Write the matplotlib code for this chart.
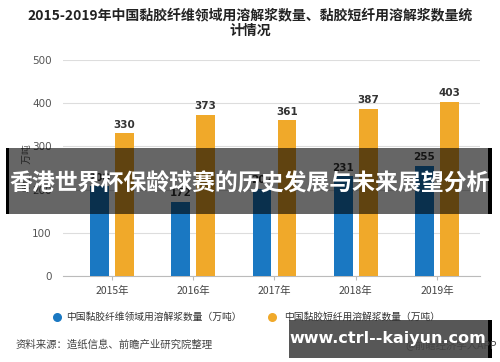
import matplotlib
matplotlib.use("Agg")
import matplotlib.pyplot as plt
import numpy as np
from matplotlib.patches import Rectangle

plt.rcParams['font.family'] = ['Noto Sans CJK SC', 'DejaVu Sans']

# ── Podaci ──────────────────────────────────────────────
godine = ['2015年', '2016年', '2017年', '2018年', '2019年']
viskoza_vlakna = [208, 172, 202, 231, 255]      # 中国黏胶纤维领域用溶解浆数量
viskoza_kratka = [330, 373, 361, 387, 403]      # 中国黏胶短纤用溶解浆数量
yticks = [0, 100, 200, 300, 400, 500]

naziv_1 = '中国黏胶纤维领域用溶解浆数量（万吨）'
naziv_2 = '中国黏胶短纤用溶解浆数量（万吨）'

PLAVA = '#1a78c2'
NARANDZASTA = '#f0a92a'

W, H = 500, 362
fig = plt.figure(figsize=(W / 100, H / 100), dpi=100)
fig.patch.set_facecolor('white')

# ── Glavni grafik ───────────────────────────────────────
ax = fig.add_axes([63 / W, (H - 276) / H, (480 - 63) / W, (276 - 60) / H])
x = np.arange(len(godine))
sirina = 0.23
pomak = 0.154
b1 = ax.bar(x - pomak, viskoza_vlakna, sirina, color=PLAVA, zorder=3)
b2 = ax.bar(x + pomak, viskoza_kratka, sirina, color=NARANDZASTA, zorder=3)
for bars, vals in [(b1, viskoza_vlakna), (b2, viskoza_kratka)]:
    for bar, v in zip(bars, vals):
        ax.text(bar.get_x() + bar.get_width() / 2, v + 8, f'{v}',
                ha='center', va='bottom', fontsize=7.5, fontweight='bold',
                color='#333333', family=['DejaVu Sans'])

ax.set_xlim(-0.603, 4.53)
ax.set_ylim(0, 500)
ax.set_yticks(yticks)
ax.set_yticklabels([str(t) for t in yticks], fontsize=7.5, color='#555555',
                   family=['DejaVu Sans'])
ax.set_xticks(x)
ax.set_xticklabels(godine, fontsize=7.5, color='#444444')
ax.tick_params(axis='y', length=0, pad=8)
ax.tick_params(axis='x', length=3, color='#bbbbbb', pad=4)
ax.grid(axis='y', color='#dddddd', linewidth=0.8, zorder=0)
for s in ['top', 'right', 'left']:
    ax.spines[s].set_visible(False)
ax.spines['bottom'].set_color('#bbbbbb')
ax.set_ylabel('单位：万吨', fontsize=7, color='#555555', labelpad=1)
ax.yaxis.set_label_coords(-0.075, 0.5)

# ── Naslov ──────────────────────────────────────────────
fig.text(250 / W, 1 - 15 / H, '2015-2019年中国黏胶纤维领域用溶解浆数量、黏胶短纤用溶解浆数量统',
         ha='center', va='center', fontsize=10, fontweight='bold', color='#222222')
fig.text(250 / W, 1 - 31 / H, '计情况', ha='center', va='center',
         fontsize=10, fontweight='bold', color='#222222')

# ── Sloj preko grafika (legenda, izvor, baneri) ─────────
ov = fig.add_axes([0, 0, 1, 1])
ov.set_xlim(0, W)
ov.set_ylim(H, 0)
ov.axis('off')

ov.scatter([57], [317], s=30, color=PLAVA)
ov.text(66, 317, naziv_1, fontsize=7, va='center', ha='left', color='#333333')
ov.scatter([272], [317], s=30, color=NARANDZASTA)
ov.text(284, 317, naziv_2, fontsize=7, va='center', ha='left', color='#333333')

ov.text(16, 345, '资料来源：造纸信息、前瞻产业研究院整理', fontsize=7.5,
        va='center', ha='left', color='#444444')
ov.text(497, 345, '@前瞻经济学人APP', fontsize=7.5, va='center', ha='right',
        color='#444444')

# srednji baner
ov.add_patch(Rectangle((8, 148), 484, 66, facecolor='black', alpha=0.6,
                       edgecolor='none'))
ov.add_patch(Rectangle((6, 148), 3, 66, facecolor='black', edgecolor='none'))
ov.add_patch(Rectangle((488, 148), 4, 66, facecolor='black', edgecolor='none'))
ov.text(250, 184, '香港世界杯保龄球赛的历史发展与未来展望分析', fontsize=16.5,
        fontweight='bold', color='white', ha='center', va='center')

# donji baner
ov.add_patch(Rectangle((289, 320), 201, 38, facecolor='#3a3a3a', alpha=0.85,
                       edgecolor='none'))
ov.add_patch(Rectangle((488, 320), 4, 38, facecolor='black', edgecolor='none'))
ov.text(388, 338, 'www.ctrl--kaiyun.com', fontsize=11.5, fontweight='bold',
        color='white', ha='center', va='center', family=['DejaVu Sans'])

fig.savefig('out.png', dpi=100)
